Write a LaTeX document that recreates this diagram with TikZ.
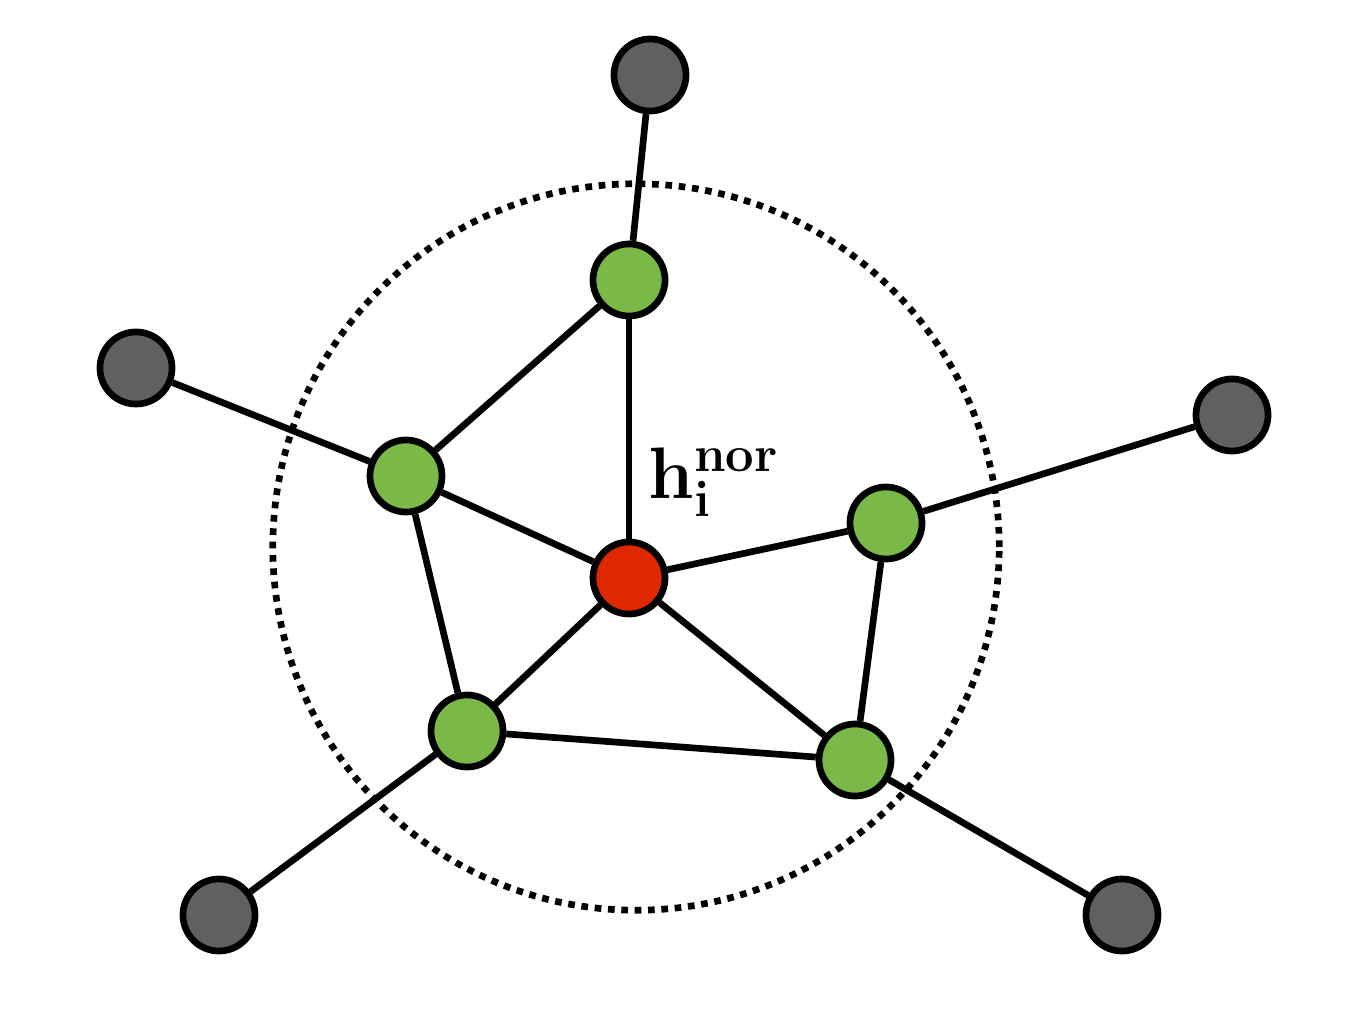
\documentclass[tikz,border=0pt]{standalone}
\begin{document}
\begin{tikzpicture}[x=0.01cm,y=-0.01cm,
  base/.style={circle,draw=black,line width=1.9pt,minimum size=0.72cm,inner sep=0pt},
  gnode/.style={base,fill=gray!75!black},
  vnode/.style={base,fill={rgb,255:red,122;green,185;blue,72}},
  rnode/.style={base,fill={rgb,255:red,224;green,40;blue,0}},
  edge/.style={line width=1.9pt}]
\useasboundingbox (0,0) rectangle (1355,1034);
\draw[line width=1.9pt,dash pattern=on 1.9pt off 1.9pt] (636,547) circle (3.63cm);
\node[gnode] (g1) at (650,75) {};
\node[gnode] (g2) at (136,368) {};
\node[gnode] (g3) at (1232,415) {};
\node[gnode] (g4) at (219,915) {};
\node[gnode] (g5) at (1122,915) {};
\node[vnode] (v1) at (629,280) {};
\node[vnode] (v2) at (406,476) {};
\node[vnode] (v3) at (886,523) {};
\node[vnode] (v4) at (467,731) {};
\node[vnode] (v5) at (855,760) {};
\node[rnode] (r) at (629,578) {};
\foreach \a/\b in {g1/v1,g2/v2,g3/v3,g4/v4,g5/v5,v1/v2,v2/v4,v4/v5,v3/v5,r/v1,r/v2,r/v3,r/v4,r/v5}
  \draw[edge] (\a) -- (\b);
\node (lab) at (714,482) {\fontsize{21}{25}\selectfont$\mathbf{h_i^{nor}}$};
\end{tikzpicture}
\end{document}
